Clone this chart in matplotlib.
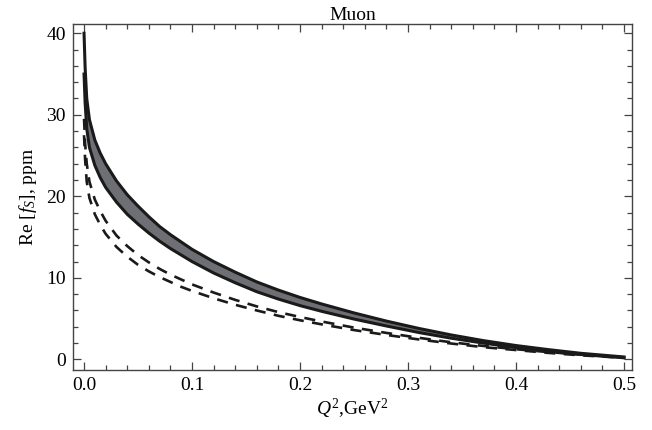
import numpy as np
import matplotlib
matplotlib.use("Agg")
import matplotlib.pyplot as plt
from matplotlib.ticker import MultipleLocator, FormatStrFormatter

# ── Data (Q^2 in GeV^2, Re f_S in ppm) ───────────────────────────────────────
q2 = [0.0, 0.001, 0.0025, 0.005, 0.01, 0.015, 0.02, 0.03, 0.04, 0.05,
      0.06, 0.07, 0.08, 0.09, 0.10, 0.12, 0.14, 0.16, 0.18, 0.20,
      0.22, 0.25, 0.28, 0.31, 0.34, 0.37, 0.40, 0.43, 0.46, 0.50]

band_upper = [40.0, 35.8, 32.0, 29.4, 26.9, 25.3, 24.0, 21.9, 20.2, 18.8,
              17.5, 16.3, 15.3, 14.4, 13.5, 12.0, 10.7, 9.5, 8.5, 7.6,
              6.8, 5.7, 4.7, 3.8, 3.0, 2.3, 1.7, 1.2, 0.75, 0.3]

band_lower = [35.0, 31.5, 28.3, 26.0, 23.8, 22.3, 21.1, 19.3, 17.8, 16.6,
              15.5, 14.5, 13.6, 12.8, 12.0, 10.6, 9.4, 8.3, 7.4, 6.6,
              5.9, 4.95, 4.1, 3.3, 2.6, 2.0, 1.45, 1.0, 0.6, 0.2]

dash_upper = [29.5, 26.5, 24.0, 21.8, 19.6, 18.2, 17.0, 15.2, 13.9, 12.8,
              11.9, 11.1, 10.4, 9.8, 9.2, 8.2, 7.3, 6.5, 5.8, 5.2,
              4.65, 3.9, 3.25, 2.65, 2.1, 1.65, 1.25, 0.9, 0.6, 0.25]

dash_lower = [27.5, 24.5, 21.8, 19.8, 17.8, 16.5, 15.4, 13.8, 12.6, 11.6,
              10.8, 10.1, 9.5, 8.9, 8.4, 7.5, 6.7, 6.0, 5.35, 4.8,
              4.3, 3.6, 3.0, 2.45, 1.95, 1.5, 1.15, 0.8, 0.5, 0.2]

# ── Style ──────────────────────────────────────────────────────────────────────
plt.rcParams["font.family"] = ["Liberation Serif", "DejaVu Serif"]
plt.rcParams["mathtext.fontset"] = "custom"
plt.rcParams["mathtext.rm"] = "Liberation Serif"
plt.rcParams["mathtext.it"] = "Liberation Serif:italic"
plt.rcParams["font.size"] = 14

fig = plt.figure(figsize=(6.52, 4.30), dpi=100)
ax = fig.add_axes([0.1115, 0.1395, 0.858, 0.804])

ax.fill_between(q2, band_lower, band_upper, color="#6e6f74", lw=0)
ax.plot(q2, band_upper, color="#1a1a1a", lw=2.2)
ax.plot(q2, band_lower, color="#1a1a1a", lw=2.2)
ax.plot(q2, dash_upper, color="#1a1a1a", lw=1.9, ls=(0, (4.2, 3.2)))
ax.plot(q2, dash_lower, color="#1a1a1a", lw=1.9, ls=(0, (4.2, 3.2)))

ax.set_xlim(-0.0105, 0.5075)
ax.set_ylim(-1.3, 41.1)

ax.xaxis.set_major_locator(MultipleLocator(0.1))
ax.xaxis.set_minor_locator(MultipleLocator(0.02))
ax.yaxis.set_major_locator(MultipleLocator(10))
ax.yaxis.set_minor_locator(MultipleLocator(2))
ax.xaxis.set_major_formatter(FormatStrFormatter("%.1f"))

ax.tick_params(which="both", direction="in", top=True, right=True,
               color="#444444", width=0.9, labelsize=14, pad=5)
ax.tick_params(which="major", length=6)
ax.tick_params(which="minor", length=3.5)
for s in ax.spines.values():
    s.set_color("#444444")
    s.set_linewidth(1.0)

ax.set_xlabel(r"$Q^2$,GeV$^2$", fontsize=14, labelpad=2)
ax.set_ylabel(r"Re [$f_S$], ppm", fontsize=14, labelpad=5)
ax.set_title("Muon", fontsize=14, pad=2)

fig.savefig("out.png", dpi=100)
